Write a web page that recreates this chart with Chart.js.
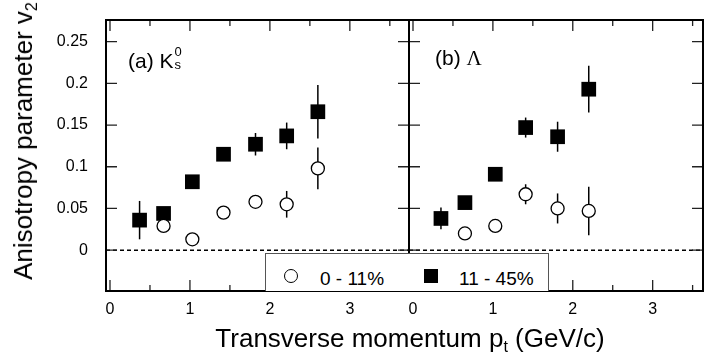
<!DOCTYPE html>
<html>
<head>
<meta charset="utf-8">
<script src="https://cdn.jsdelivr.net/npm/chart.js@4.4.0/dist/chart.umd.min.js"></script>
<style>
body { margin: 0; background: #fff; }
#wrap { position: relative; width: 704px; height: 360px; font-family: "Liberation Sans", Arial, sans-serif; color: #000; }
canvas { position: absolute; top: 0; }
.txt { position: absolute; white-space: nowrap; line-height: 1; }
.sub { font-size: 0.62em; position: relative; top: 0.32em; }
#legend { position: absolute; left: 265px; top: 253px; width: 284px; height: 38px; box-sizing: border-box;
  border: 1.5px solid #555; border-bottom: none; background: #fff; }
.mk { position: absolute; box-sizing: border-box; }
</style>
</head>
<body>
<div id="wrap">
  <canvas id="left" width="412" height="360" style="left:0"></canvas>
  <canvas id="right" width="300" height="360" style="left:404px"></canvas>

  <div class="txt" style="left:23px;top:141px;font-size:26px;transform:translate(-50%,-50%) rotate(-90deg);">Anisotropy parameter v<span class="sub">2</span></div>
  <div class="txt" style="left:410px;top:325px;font-size:26px;transform:translateX(-50%);">Transverse momentum p<span class="sub">t</span> (GeV/c)</div>

  <div class="txt" style="left:128px;top:47px;font-size:21px;">(a) K<span style="position:relative;display:inline-block;width:10px;height:1em;"><span style="position:absolute;left:1px;top:-2px;font-size:13px;">0</span><span style="position:absolute;left:1px;top:11px;font-size:13px;">s</span></span></div>
  <div class="txt" style="left:435px;top:47px;font-size:21px;">(b) <span style="font-family:'Liberation Serif','Times New Roman',serif;">Λ</span></div>

  <div id="legend">
    <div class="mk" style="left:18px;top:15px;width:14px;height:14px;border:1.3px solid #000;border-radius:50%;"></div>
    <div class="txt" style="left:54px;top:15px;font-size:19px;">0 - 11%</div>
    <div class="mk" style="left:158px;top:15px;width:14px;height:14px;background:#000;"></div>
    <div class="txt" style="left:193px;top:15px;font-size:19px;">11 - 45%</div>
  </div>
</div>

<script>
// Panel (a): K0s
const kPtOpen = [0.67, 1.03, 1.42, 1.82, 2.21, 2.60];
const kV2Open = [0.029, 0.013, 0.045, 0.058, 0.055, 0.098];
const kErrOpen = [0.004, 0.004, 0.005, 0.006, 0.016, 0.025];
const kPtFull = [0.37, 0.67, 1.03, 1.42, 1.82, 2.21, 2.60];
const kV2Full = [0.036, 0.044, 0.082, 0.115, 0.127, 0.137, 0.166];
const kErrFull = [0.023, 0.006, 0.006, 0.008, 0.0135, 0.016, 0.032];

// Panel (b): Lambda
const lPtOpen = [0.65, 1.03, 1.41, 1.81, 2.20];
const lV2Open = [0.020, 0.029, 0.067, 0.050, 0.047];
const lErrOpen = [0.004, 0.004, 0.012, 0.018, 0.029];
const lPtFull = [0.35, 0.65, 1.03, 1.41, 1.81, 2.20];
const lV2Full = [0.038, 0.057, 0.091, 0.147, 0.136, 0.193];
const lErrFull = [0.013, 0.006, 0.006, 0.012, 0.018, 0.028];

// Axes
const yTicks = [0, 0.05, 0.1, 0.15, 0.2, 0.25];
const yTickLabels = ['0', '0.05', '0.1', '0.15', '0.2', '0.25'];
const xMajor = [0, 1, 2, 3];
const xMinor = [0.5, 1.5, 2.5, 3.5];

function points(xs, ys) {
    return xs.map((x, i) => ({ x: x, y: ys[i] }));
}

// zero line + error bars under the markers, frame and inward ticks on top
const framePlugin = {
    id: 'frame',
    beforeDatasetsDraw(chart) {
        const { ctx, chartArea: a, scales: { x, y } } = chart;
        ctx.save();
        ctx.strokeStyle = '#000';
        ctx.lineWidth = 1.5;
        ctx.setLineDash([4, 3]);
        const y0 = y.getPixelForValue(0);
        ctx.beginPath();
        ctx.moveTo(a.left, y0);
        ctx.lineTo(a.right, y0);
        ctx.stroke();
        ctx.setLineDash([]);
        chart.data.datasets.forEach(ds => {
            ds.data.forEach((p, i) => {
                const px = x.getPixelForValue(p.x);
                ctx.beginPath();
                ctx.moveTo(px, y.getPixelForValue(p.y - ds.errors[i]));
                ctx.lineTo(px, y.getPixelForValue(p.y + ds.errors[i]));
                ctx.stroke();
            });
        });
        ctx.restore();
    },
    afterDraw(chart) {
        const { ctx, chartArea: a, scales: { x, y } } = chart;
        ctx.save();
        ctx.strokeStyle = '#222';
        ctx.lineWidth = 1.3;
        ctx.beginPath();
        const xTick = (v, len) => {
            const px = x.getPixelForValue(v);
            if (px < a.left || px > a.right) return;
            ctx.moveTo(px, a.bottom); ctx.lineTo(px, a.bottom - len);
            ctx.moveTo(px, a.top); ctx.lineTo(px, a.top + len);
        };
        xMajor.forEach(v => xTick(v, 11));
        xMinor.forEach(v => xTick(v, 6));
        yTicks.forEach(v => {
            const py = y.getPixelForValue(v);
            ctx.moveTo(a.left, py); ctx.lineTo(a.left + 11, py);
            ctx.moveTo(a.right, py); ctx.lineTo(a.right - 11, py);
        });
        ctx.stroke();
        ctx.strokeStyle = '#000';
        ctx.lineWidth = 2;
        ctx.strokeRect(a.left, a.top, a.right - a.left, a.bottom - a.top);
        ctx.restore();
    }
};

function makePanel(canvasId, ptOpen, v2Open, errOpen, ptFull, v2Full, errFull, xMax, showYLabels, yWidth, padRight) {
    const ctx = document.getElementById(canvasId).getContext('2d');
    return new Chart(ctx, {
        type: 'scatter',
        data: {
            datasets: [
                {
                    label: '0 - 11%',
                    data: points(ptOpen, v2Open),
                    errors: errOpen,
                    pointStyle: 'circle',
                    pointRadius: 6.5,
                    backgroundColor: '#fff',
                    borderColor: '#000',
                    borderWidth: 1.3
                },
                {
                    label: '11 - 45%',
                    data: points(ptFull, v2Full),
                    errors: errFull,
                    pointStyle: 'rect',
                    pointRadius: 10.4,
                    backgroundColor: '#000',
                    borderColor: '#000',
                    borderWidth: 0
                }
            ]
        },
        options: {
            responsive: false,
            animation: false,
            layout: { padding: { top: 20, right: padRight, left: 0, bottom: 0 }, autoPadding: false },
            plugins: { legend: { display: false }, tooltip: { enabled: false } },
            scales: {
                x: {
                    type: 'linear',
                    min: -0.05,
                    max: xMax,
                    grid: { display: false, drawTicks: false },
                    border: { display: false },
                    // fixed height, and no label-overflow padding so the plot area stays put
                    afterFit: s => { s.height = 69; s.paddingLeft = 0; s.paddingRight = 0; },
                    afterBuildTicks: s => { s.ticks = xMajor.map(v => ({ value: v })); },
                    ticks: {
                        padding: 9,
                        color: '#000',
                        maxRotation: 0,
                        font: { family: 'Liberation Sans', size: 16 },
                        callback: v => String(v)
                    }
                },
                y: {
                    type: 'linear',
                    min: -0.049,
                    max: 0.276,
                    grid: { display: false, drawTicks: false },
                    border: { display: false },
                    afterFit: s => { s.width = yWidth; s.paddingTop = 0; s.paddingBottom = 0; },
                    afterBuildTicks: s => { s.ticks = yTicks.map(v => ({ value: v })); },
                    ticks: {
                        display: showYLabels,
                        padding: 18,
                        color: '#000',
                        font: { family: 'Liberation Sans', size: 16 },
                        callback: (v, i) => yTickLabels[i]
                    }
                }
            }
        },
        plugins: [framePlugin]
    });
}

// left canvas: plot area 106..409; right canvas starts at 404: plot area 409..703
makePanel('left', kPtOpen, kV2Open, kErrOpen, kPtFull, kV2Full, kErrFull, 3.74, true, 106, 3);
makePanel('right', lPtOpen, lV2Open, lErrOpen, lPtFull, lV2Full, lErrFull, 3.63, false, 5, 1);
</script>
</body>
</html>
